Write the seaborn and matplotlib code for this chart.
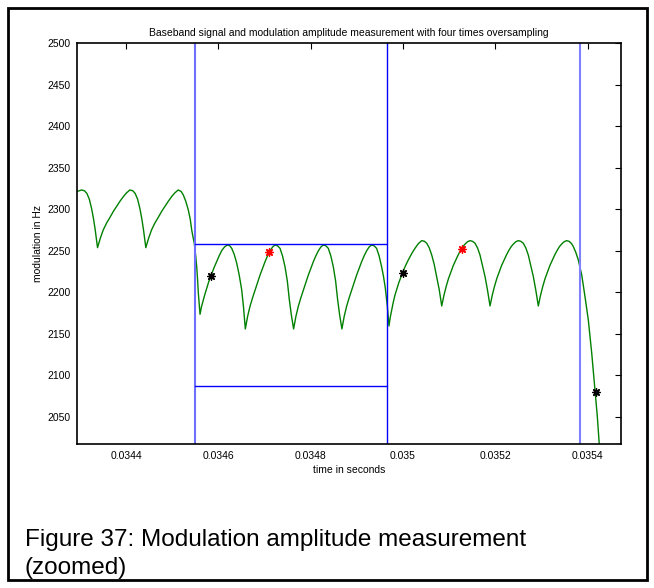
import matplotlib
matplotlib.use("Agg")
import matplotlib.pyplot as plt
from matplotlib.patches import Rectangle
import seaborn as sns
import pandas as pd

# demodulated frequency trace: time in seconds
time_s = [
    # before the first symbol boundary
    0.0342945, 0.0343038, 0.0343101, 0.0343153, 0.0343205, 0.0343257, 0.0343298, 0.0343331, 0.0343361, 0.0343383,
    0.0343446, 0.0343508, 0.0343582, 0.0343656, 0.0343727, 0.0343801, 0.0343874, 0.0343948, 0.0344011, 0.0344084,
    0.0344147, 0.0344199, 0.0344251, 0.0344303, 0.0344344, 0.0344377, 0.0344407, 0.0344429,
    0.0344492, 0.0344554, 0.0344628, 0.0344702, 0.0344773, 0.0344847, 0.0344921, 0.0344994, 0.0345057, 0.0345131,
    0.0345193, 0.0345241, 0.0345295, 0.0345349, 0.0345391, 0.0345423, 0.0345453, 0.0345479, 0.0345507, 0.0345531,
    0.0345549, 0.0345566, 0.0345585, 0.0345603,
    # inside the measurement window
    0.0345635, 0.0345674, 0.0345711, 0.0345748, 0.0345793, 0.0345841, 0.0345902, 0.0345964, 0.0346019, 0.0346073,
    0.0346133, 0.0346194, 0.0346242, 0.0346289, 0.0346344, 0.0346398, 0.0346452, 0.0346506, 0.0346545, 0.0346584,
    0.0346634, 0.0346686, 0.0346740, 0.0346794, 0.0346848, 0.0346902, 0.0346956, 0.0347011, 0.0347065, 0.0347119,
    0.0347173, 0.0347227, 0.0347281, 0.0347335, 0.0347390, 0.0347444, 0.0347494, 0.0347537, 0.0347580, 0.0347630,
    0.0347680, 0.0347732, 0.0347786, 0.0347840, 0.0347894, 0.0347948, 0.0348002, 0.0348057, 0.0348111, 0.0348165,
    0.0348219, 0.0348273, 0.0348327, 0.0348381, 0.0348436, 0.0348490, 0.0348540, 0.0348583, 0.0348626, 0.0348676,
    0.0348726, 0.0348778, 0.0348832, 0.0348886, 0.0348940, 0.0348994, 0.0349048, 0.0349103, 0.0349157, 0.0349211,
    0.0349265, 0.0349319, 0.0349373, 0.0349427, 0.0349482, 0.0349536, 0.0349577, 0.0349616, 0.0349660, 0.0349696,
    # next symbol
    0.0349724, 0.0349755, 0.0349789, 0.0349826, 0.0349909, 0.0349993, 0.0350054, 0.0350114, 0.0350188, 0.0350259,
    0.0350331, 0.0350405, 0.0350459, 0.0350513, 0.0350567, 0.0350621, 0.0350675, 0.0350729, 0.0350784, 0.0350838,
    0.0350885, 0.0350935, 0.0350985, 0.0351037, 0.0351089, 0.0351141, 0.0351193, 0.0351245, 0.0351297, 0.0351347,
    0.0351399, 0.0351451, 0.0351505, 0.0351559, 0.0351613, 0.0351667, 0.0351721, 0.0351776, 0.0351830, 0.0351884,
    0.0351931, 0.0351981, 0.0352031, 0.0352083, 0.0352135, 0.0352187, 0.0352239, 0.0352291, 0.0352343, 0.0352393,
    0.0352445, 0.0352497, 0.0352551, 0.0352605, 0.0352659, 0.0352713, 0.0352767, 0.0352822, 0.0352876, 0.0352930,
    0.0352977, 0.0353027, 0.0353077, 0.0353129, 0.0353181, 0.0353233, 0.0353285, 0.0353337, 0.0353389, 0.0353439,
    0.0353491, 0.0353543,
    0.0353597, 0.0353651, 0.0353688, 0.0353742, 0.0353796, 0.0353870, 0.0353941, 0.0354013, 0.0354087, 0.0354158,
    0.0354208, 0.0354251, 0.0354288,
]
# demodulated frequency trace: modulation in Hz
modulation_hz = [
    2321.5, 2323.2, 2322.2, 2319.0, 2312.1, 2300.3, 2287.8, 2275.9, 2263.4, 2253.7,
    2265.5, 2275.2, 2283.6, 2290.5, 2297.5, 2303.7, 2310.0, 2315.6, 2319.7, 2323.2,
    2322.2, 2319.0, 2312.1, 2300.3, 2287.8, 2275.9, 2263.4, 2253.7,
    2265.5, 2275.2, 2283.6, 2290.5, 2297.5, 2303.7, 2310.0, 2315.6, 2319.7, 2323.2,
    2321.5, 2317.2, 2309.5, 2299.1, 2288.0, 2275.0, 2266.0, 2259.0, 2245.0, 2230.8,
    2216.0, 2199.1, 2186.0, 2173.4,
    2182.5, 2190.6, 2198.0, 2204.8, 2212.8, 2219.9, 2228.9, 2236.8, 2244.0, 2250.1,
    2254.5, 2256.9, 2256.2, 2252.9, 2245.5, 2234.9, 2220.6, 2202.7, 2182.0, 2155.7,
    2170.9, 2183.0, 2193.1, 2202.3, 2211.4, 2220.5, 2228.6, 2236.7, 2243.7, 2249.8,
    2254.4, 2256.9, 2255.9, 2252.9, 2243.7, 2230.6, 2213.4, 2191.1, 2172.9, 2155.7,
    2170.9, 2183.0, 2193.1, 2202.3, 2211.4, 2220.5, 2228.6, 2236.7, 2243.7, 2249.8,
    2254.4, 2256.9, 2255.9, 2252.9, 2243.7, 2230.6, 2213.4, 2191.1, 2172.9, 2155.7,
    2170.9, 2183.0, 2193.1, 2202.3, 2211.4, 2220.5, 2228.6, 2236.7, 2243.7, 2249.8,
    2254.4, 2256.9, 2255.9, 2252.9, 2243.7, 2230.6, 2219.0, 2205.0, 2183.0, 2159.3,
    2170.0, 2178.6, 2188.0, 2196.7, 2211.5, 2224.0, 2232.0, 2238.9, 2246.5, 2252.9,
    2258.5, 2262.1, 2261.5, 2259.0, 2253.5, 2244.9, 2233.5, 2218.7, 2203.0, 2183.4,
    2196.0, 2207.0, 2216.5, 2224.3, 2232.2, 2238.5, 2244.8, 2250.3, 2255.0, 2258.2,
    2260.9, 2262.1, 2261.3, 2259.0, 2253.4, 2244.8, 2232.2, 2218.8, 2202.3, 2183.4,
    2196.0, 2207.0, 2216.5, 2224.3, 2232.2, 2238.5, 2244.8, 2250.3, 2255.0, 2258.2,
    2260.9, 2262.1, 2261.3, 2259.0, 2253.4, 2244.8, 2232.2, 2218.8, 2202.3, 2183.4,
    2196.0, 2207.0, 2216.5, 2224.3, 2232.2, 2238.5, 2244.8, 2250.3, 2255.0, 2258.2,
    2260.9, 2262.1,
    2261.3, 2258.5, 2255.0, 2248.0, 2238.9, 2220.8, 2194.6, 2166.5, 2126.4, 2082.2,
    2050.0, 2015.9, 1990.0,
]

# sampled points (four times oversampling)
black_t = [0.0345841, 0.0350006, 0.0354173]
black_hz = [2219.5, 2223.5, 2080.0]
red_t = [0.0347097, 0.0351271]
red_hz = [2249.0, 2251.8]

# measurement window: symbol boundaries and min/max levels
boundary_t = [0.0345490, 0.0349660, 0.0353833]
boundary_colors = ["#6f6fff", "#0000ff", "#8080ff"]
window_t = [0.0345490, 0.0349660]
level_hz = [2257.7, 2087.0]

x_ticks = [0.0344, 0.0346, 0.0348, 0.0350, 0.0352, 0.0354]
x_tick_labels = ["0.0344", "0.0346", "0.0348", "0.035", "0.0352", "0.0354"]
y_ticks = [2050, 2100, 2150, 2200, 2250, 2300, 2350, 2400, 2450, 2500]
x_limits = (0.0342945, 0.035471)
y_limits = (2017.0, 2500.0)

sns.set_style("white")
plt.rcParams["font.family"] = ["Liberation Sans", "DejaVu Sans"]
for key in ("text.color", "axes.labelcolor", "xtick.color", "ytick.color"):
    plt.rcParams[key] = "black"

fig = plt.figure(figsize=(6.54, 5.88), dpi=100)
ax = fig.add_axes([77.3 / 654, 1 - 444 / 588, 543.2 / 654, 400.7 / 588])

trace = pd.DataFrame({"t": time_s, "f": modulation_hz})
sns.lineplot(data=trace, x="t", y="f", ax=ax, color="#008000", linewidth=1.0,
             sort=False, estimator=None)

for t, c in zip(boundary_t, boundary_colors):
    ax.axvline(t, color=c, linewidth=1.0 if c == "#0000ff" else 1.5)
for lvl in level_hz:
    ax.plot(window_t, [lvl, lvl], color="#0000ff", linewidth=1.0)

asterisk = (8, 2, 0)
sns.scatterplot(x=black_t, y=black_hz, ax=ax, marker=asterisk, color="black",
                s=28, linewidth=1.0, zorder=5)
sns.scatterplot(x=red_t, y=red_hz, ax=ax, marker=asterisk, color="red",
                s=28, linewidth=1.0, zorder=5)

ax.set_xlim(*x_limits)
ax.set_ylim(*y_limits)
ax.set_xticks(x_ticks)
ax.set_xticklabels(x_tick_labels)
ax.set_yticks(y_ticks)
ax.tick_params(direction="in", length=4, width=0.8, labelsize=7.5, pad=5,
               top=True, right=True, colors="black")
for sp in ax.spines.values():
    sp.set_color("black")
    sp.set_linewidth(1.2)

ax.set_title("Baseband signal and modulation amplitude measurement with four times oversampling",
             fontsize=7.5, pad=5)
ax.set_xlabel("time in seconds", fontsize=7.5, labelpad=3)
ax.set_ylabel("modulation in Hz", fontsize=7.5, labelpad=3)

# outer frame and caption
fig.patches.append(Rectangle((8 / 654, 1 - 580 / 588), 639 / 654, 572 / 588,
                             transform=fig.transFigure, fill=False,
                             edgecolor="black", linewidth=2))
fig.text(25 / 654, 1 - 546 / 588, "Figure 37: Modulation amplitude measurement",
         fontsize=17.5, ha="left", va="baseline")
fig.text(25 / 654, 1 - 574 / 588, "(zoomed)",
         fontsize=17.5, ha="left", va="baseline")

fig.savefig("out.png", dpi=100)
